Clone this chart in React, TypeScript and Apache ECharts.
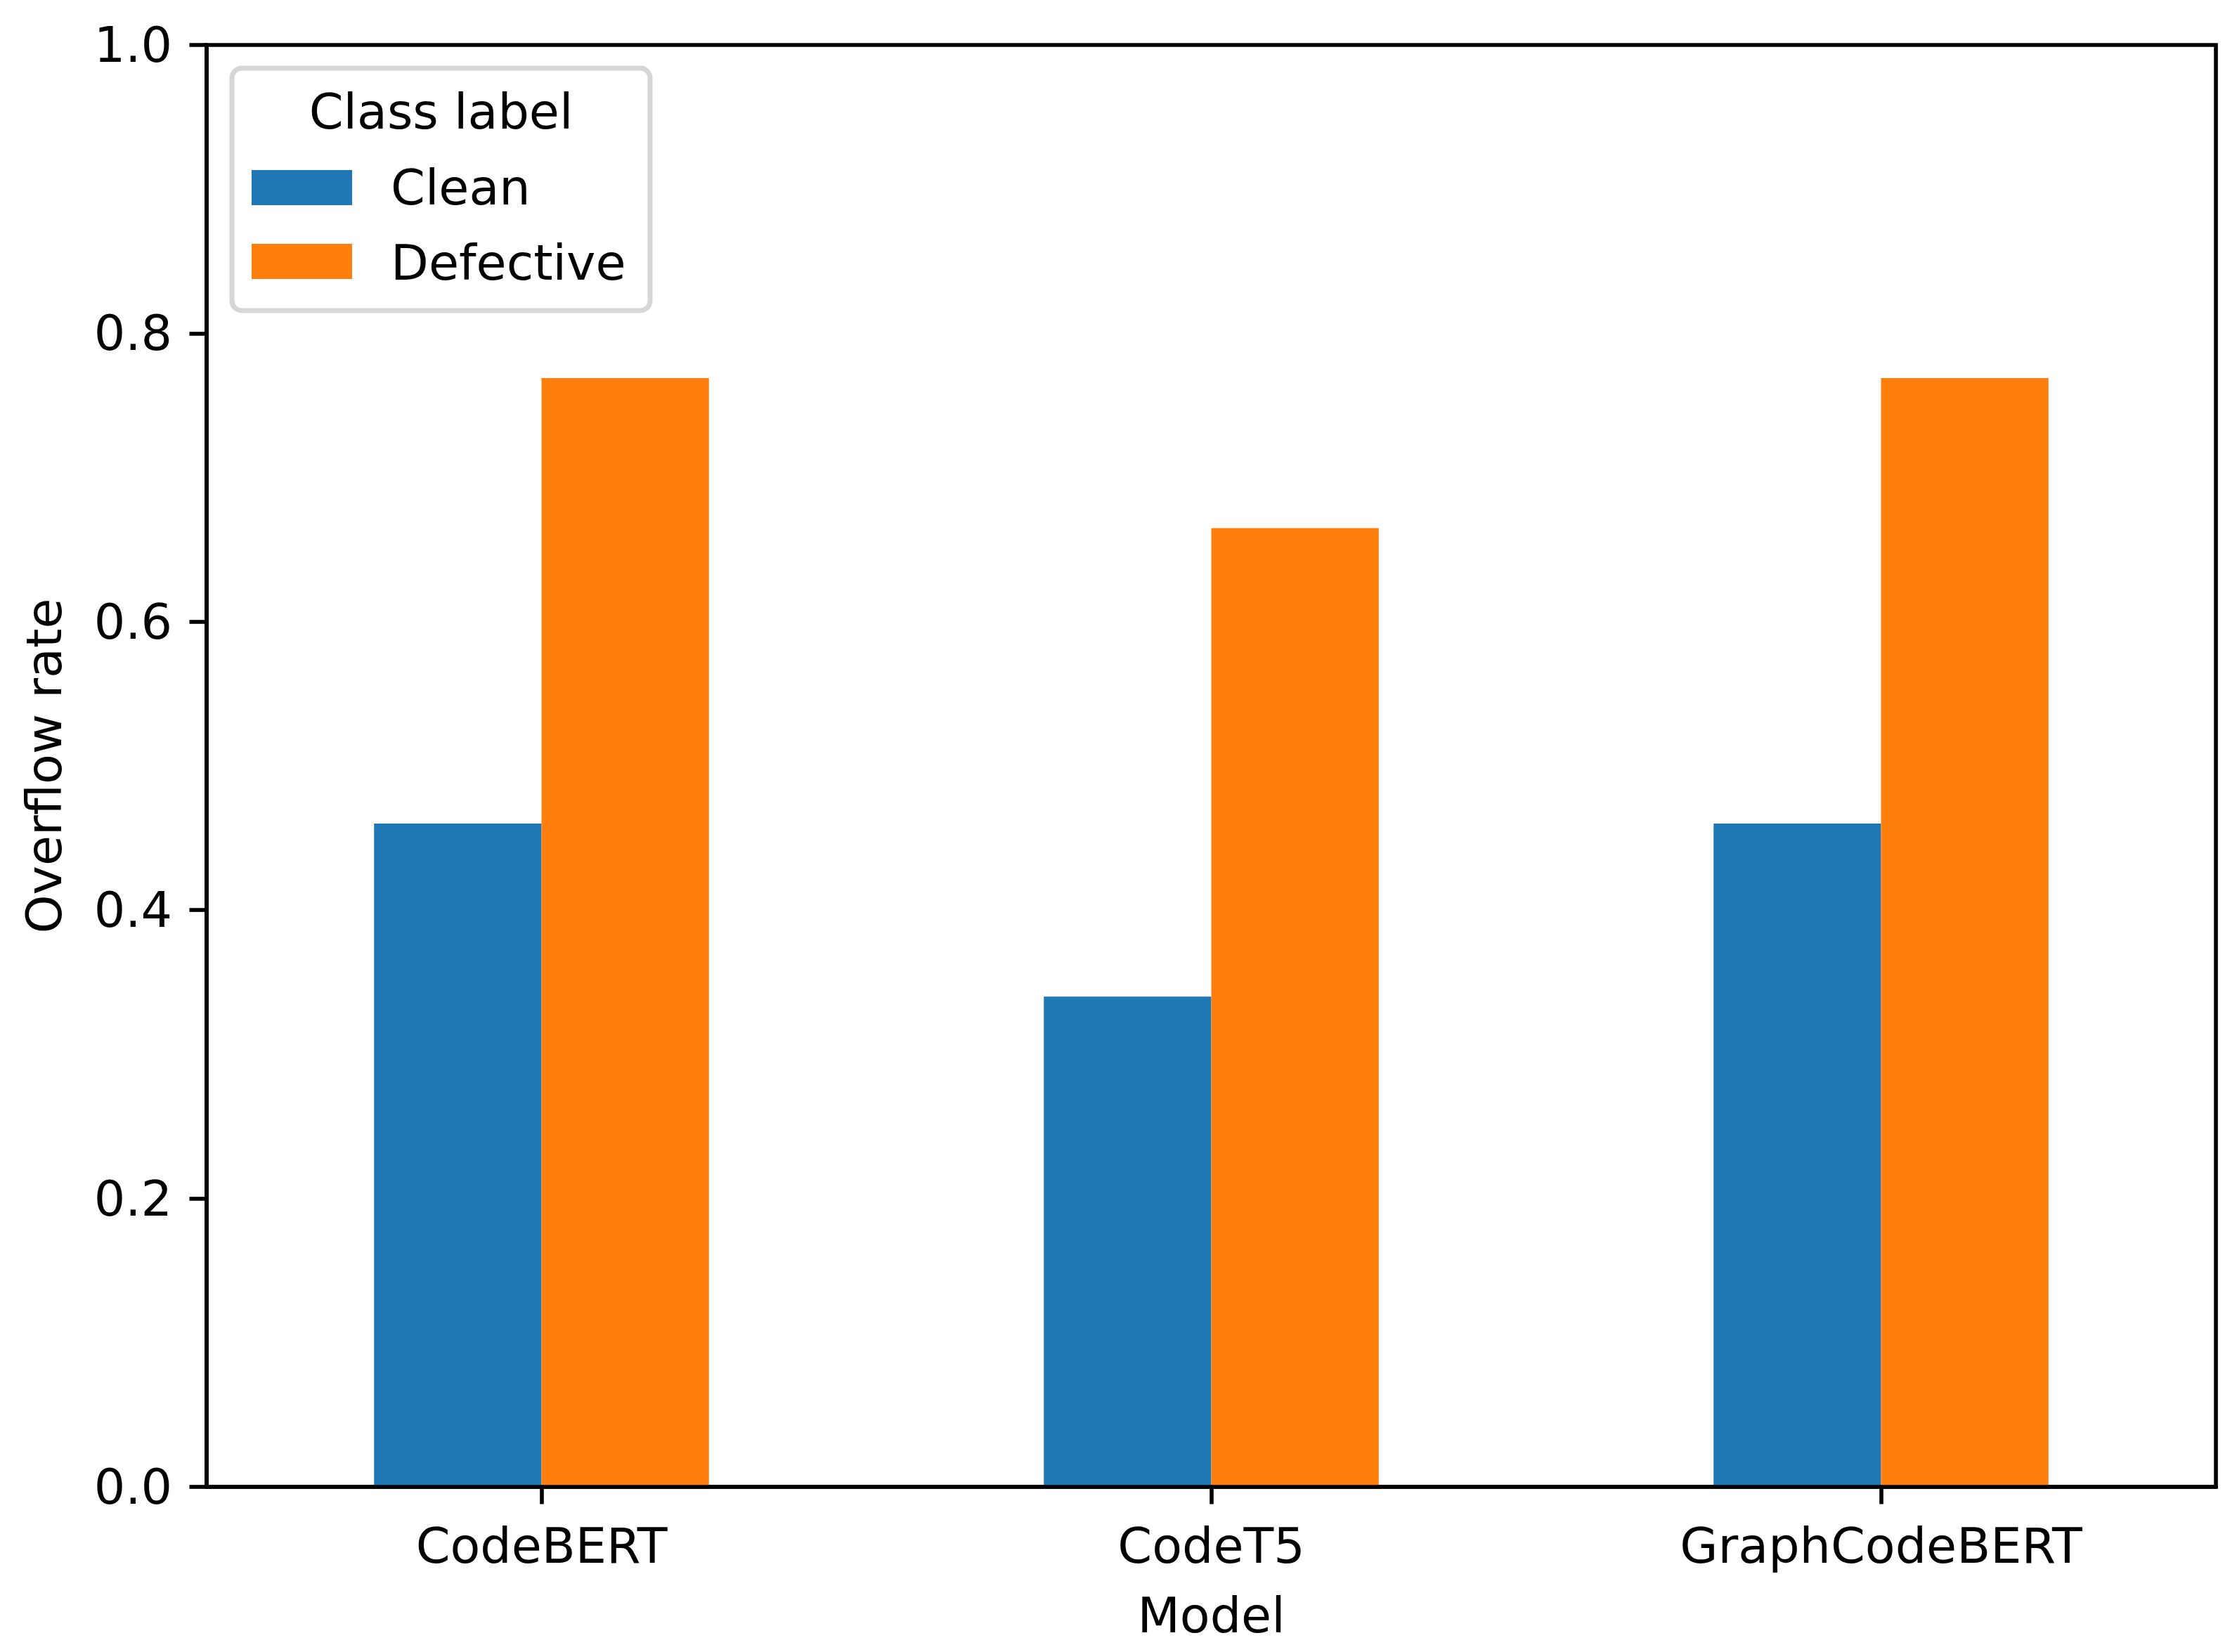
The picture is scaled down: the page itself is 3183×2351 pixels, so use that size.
import React, { useEffect, useRef } from "react";
import * as echarts from "echarts";

const categories: string[] = ["CodeBERT", "CodeT5", "GraphCodeBERT"];
const seriesNames: string[] = ["Clean", "Defective"];
const cleanValues: number[] = [0.46, 0.34, 0.46];
const defectiveValues: number[] = [0.769, 0.665, 0.769];
const yTicks: number[] = [0, 0.2, 0.4, 0.6, 0.8, 1.0];
const colors: string[] = ["#1f77b4", "#ff7f0e"];
const legendTitle = "Class label";
const xName = "Model";
const yName = "Overflow rate";

const FONT = "DejaVu Sans";
const FS = 70;
const LW = 5.6;

export default function App() {
  const ref = useRef<HTMLDivElement>(null);

  useEffect(() => {
    if (!ref.current) return;
    const chart = echarts.init(ref.current, undefined, { renderer: "svg" });
    const gridLeft = 294;
    const gridTop = 64;
    const gridRight = 3183 - 3153;
    const gridBottom = 2351 - 2116;

    const legendX = 330;
    const legendY = 97;
    const legendW = 595;
    const legendH = 345;
    const patchX = 358;
    const patchW = 143;
    const patchH = 50;
    const rowY = [242, 347];
    const textY = [267, 374];
    const textX = 556;

    const legendGraphics: any[] = [
      {
        type: "rect",
        shape: { x: legendX, y: legendY, width: legendW, height: legendH, r: 14 },
        style: { fill: "rgba(255,255,255,0.8)", stroke: "#d6d6d6", lineWidth: 7 },
        z: 100,
      },
      {
        type: "text",
        x: legendX + legendW / 2,
        y: 159,
        style: {
          text: legendTitle,
          fontFamily: FONT,
          fontSize: FS,
          fill: "#000",
          align: "center",
          verticalAlign: "middle",
        },
        z: 101,
      },
    ];
    seriesNames.forEach((name, i) => {
      legendGraphics.push({
        type: "rect",
        shape: { x: patchX, y: rowY[i], width: patchW, height: patchH },
        style: { fill: colors[i] },
        z: 101,
      });
      legendGraphics.push({
        type: "text",
        x: textX,
        y: textY[i],
        style: {
          text: name,
          fontFamily: FONT,
          fontSize: FS,
          fill: "#000",
          align: "left",
          verticalAlign: "middle",
        },
        z: 101,
      });
    });

    const option: any = {
      animation: false,
      backgroundColor: "#ffffff",
      textStyle: { fontFamily: FONT },
      grid: {
        left: gridLeft,
        top: gridTop,
        right: gridRight,
        bottom: gridBottom,
        show: true,
        borderColor: "#000",
        borderWidth: LW,
        backgroundColor: "transparent",
        containLabel: false,
      },
      xAxis: {
        type: "category",
        data: categories,
        z: 10,
        name: xName,
        nameLocation: "middle",
        nameGap: 148,
        nameTextStyle: { fontFamily: FONT, fontSize: FS, color: "#000" },
        axisLine: { show: true, lineStyle: { color: "#000", width: LW } },
        axisTick: {
          show: true,
          alignWithLabel: true,
          length: 24.5,
          lineStyle: { color: "#000", width: LW },
        },
        axisLabel: { fontFamily: FONT, fontSize: FS, color: "#000", margin: 49 },
        splitLine: { show: false },
      },
      yAxis: {
        type: "value",
        min: yTicks[0],
        max: yTicks[yTicks.length - 1],
        interval: 0.2,
        z: 10,
        name: yName,
        nameLocation: "middle",
        nameRotate: 90,
        nameGap: 196,
        nameTextStyle: { fontFamily: FONT, fontSize: FS, color: "#000" },
        axisLine: { show: true, lineStyle: { color: "#000", width: LW } },
        axisTick: { show: true, length: 24.5, lineStyle: { color: "#000", width: LW } },
        axisLabel: {
          fontFamily: FONT,
          fontSize: FS,
          color: "#000",
          margin: 49,
          formatter: (v: number) => v.toFixed(1),
        },
        splitLine: { show: false },
      },
      series: [
        {
          name: seriesNames[0],
          type: "bar",
          data: cleanValues,
          barWidth: "25%",
          barGap: "0%",
          itemStyle: { color: colors[0] },
        },
        {
          name: seriesNames[1],
          type: "bar",
          data: defectiveValues,
          barWidth: "25%",
          barGap: "0%",
          itemStyle: { color: colors[1] },
        },
      ],
      graphic: legendGraphics,
    };
    chart.setOption(option);
    return () => chart.dispose();
  }, []);

  return (
    <div
      ref={ref}
      style={{ position: "fixed", left: 0, top: 0, width: 3183, height: 2351, background: "#fff" }}
    />
  );
}
